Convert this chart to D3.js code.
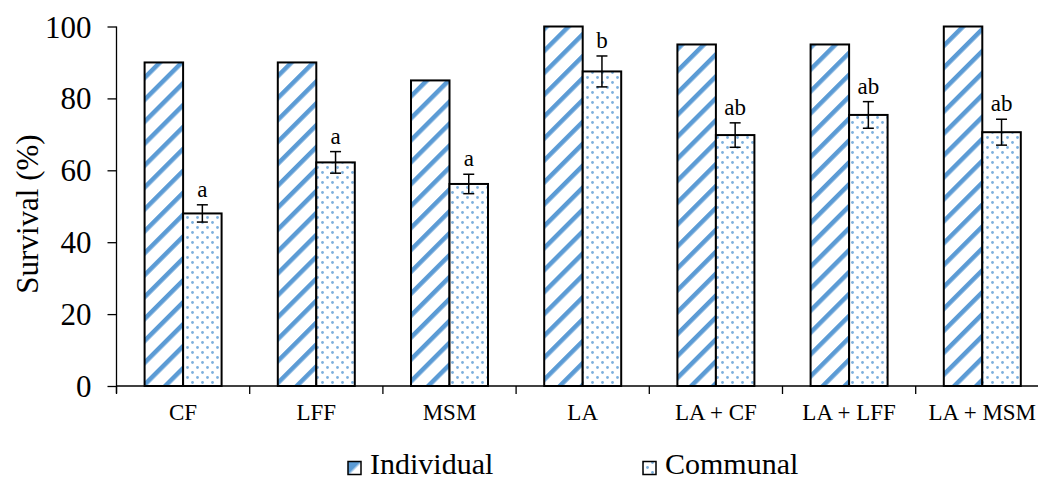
<!DOCTYPE html>
<html>
<head>
<meta charset="utf-8">
<script src="https://cdn.jsdelivr.net/npm/d3@7"></script>
<style>
  html, body { margin: 0; padding: 0; background: #fff; }
  svg { display: block; }
  svg text { font-family: "Liberation Serif", "Times New Roman", serif; }
</style>
</head>
<body>
<svg id="chart" width="1038" height="479"></svg>
<script>
// Survival by treatment, individual vs communal rearing
const categories = ["CF", "LFF", "MSM", "LA", "LA + CF", "LA + LFF", "LA + MSM"];
const individual = [90, 90, 85, 100, 95, 95, 100];
const communal = [48, 62.2, 56.2, 87.5, 69.8, 75.4, 70.6];
const communalErr = [2.4, 3.0, 2.7, 4.3, 3.4, 3.7, 3.6];
const groupLetters = ["a", "a", "a", "b", "ab", "ab", "ab"];
const yTicks = [0, 20, 40, 60, 80, 100];
const seriesNames = ["Individual", "Communal"];

const blue = "#5b9bd5";
const serif = "Liberation Serif";
const svg = d3.select("#chart");

// fill patterns
const defs = svg.append("defs");
const stripe = defs.append("pattern")
  .attr("id", "stripes")
  .attr("patternUnits", "userSpaceOnUse")
  .attr("width", 15.5).attr("height", 15.5)
  .attr("patternTransform", "rotate(45)");
stripe.append("rect").attr("width", 15.5).attr("height", 15.5).attr("fill", "#fff");
stripe.append("rect").attr("x", 0).attr("width", 4.5).attr("height", 15.5).attr("fill", blue);

const dots = defs.append("pattern")
  .attr("id", "dots")
  .attr("patternUnits", "userSpaceOnUse")
  .attr("width", 10).attr("height", 10);
dots.append("rect").attr("width", 10).attr("height", 10).attr("fill", "#fff");
dots.append("circle").attr("cx", 2.5).attr("cy", 2.5).attr("r", 1.4).attr("fill", blue).attr("fill-opacity", 0.8);
dots.append("circle").attr("cx", 7.5).attr("cy", 7.5).attr("r", 1.4).attr("fill", blue).attr("fill-opacity", 0.8);

const swatchGrad = defs.append("linearGradient")
  .attr("id", "indivSwatch")
  .attr("x1", 0).attr("y1", 0).attr("x2", 1).attr("y2", 1);
swatchGrad.append("stop").attr("offset", "0%").attr("stop-color", blue);
swatchGrad.append("stop").attr("offset", "45%").attr("stop-color", blue);
swatchGrad.append("stop").attr("offset", "60%").attr("stop-color", "#fff");
swatchGrad.append("stop").attr("offset", "100%").attr("stop-color", "#fff");

// scales
const x = d3.scaleBand().domain(categories).range([116.5, 116.5 + 7 * 133.2]).padding(0);
const y = d3.scaleLinear().domain([0, 100]).range([386, 26.5]);
const barW = 38.5;

// y axis
const yAxis = d3.axisLeft(y).tickValues(yTicks).tickSize(9).tickPadding(16);
const gy = svg.append("g").attr("transform", "translate(116.5,0)").call(yAxis);
gy.attr("font-family", serif);
gy.select(".domain").attr("d", "M0,26.5V393").attr("stroke", "#000").attr("stroke-width", 1.3);
gy.selectAll(".tick line").attr("stroke", "#000").attr("stroke-width", 1.3);
gy.selectAll(".tick text")
  .attr("font-family", serif).attr("font-size", 31).attr("fill", "#000")
  .attr("dy", "0.34em");

// x axis with ticks between categories
const boundaries = d3.range(categories.length + 1).map(i => x.range()[0] + i * x.step());
const gx = svg.append("g");
gx.append("line")
  .attr("x1", x.range()[0]).attr("x2", x.range()[1])
  .attr("y1", y(0)).attr("y2", y(0))
  .attr("stroke", "#000").attr("stroke-width", 1.3);
gx.selectAll("line.tk").data(boundaries).join("line")
  .attr("class", "tk")
  .attr("x1", d => d).attr("x2", d => d)
  .attr("y1", y(0)).attr("y2", y(0) + 8)
  .attr("stroke", "#000").attr("stroke-width", 1.3);
gx.selectAll("text").data(categories).join("text")
  .attr("x", d => x(d) + x.bandwidth() / 2)
  .attr("y", 420)
  .attr("text-anchor", "middle")
  .attr("font-family", serif)
  .attr("font-size", 23)
  .attr("fill", "#000")
  .text(d => d);

// bars
const bars = svg.append("g");
bars.selectAll("rect.ind").data(categories).join("rect")
  .attr("class", "ind")
  .attr("x", (d) => x(d) + x.bandwidth() / 2 - barW)
  .attr("y", (d, i) => y(individual[i]))
  .attr("width", barW)
  .attr("height", (d, i) => y(0) - y(individual[i]))
  .attr("fill", "url(#stripes)")
  .attr("stroke", "#000").attr("stroke-width", 2);
bars.selectAll("rect.com").data(categories).join("rect")
  .attr("class", "com")
  .attr("x", (d) => x(d) + x.bandwidth() / 2)
  .attr("y", (d, i) => y(communal[i]))
  .attr("width", barW)
  .attr("height", (d, i) => y(0) - y(communal[i]))
  .attr("fill", "url(#dots)")
  .attr("stroke", "#000").attr("stroke-width", 2);

// error bars on communal
const err = svg.append("g").attr("stroke", "#000").attr("stroke-width", 1.5);
categories.forEach((c, i) => {
  const cx = x(c) + x.bandwidth() / 2 + barW / 2;
  const top = y(communal[i] + communalErr[i]);
  const bot = y(communal[i] - communalErr[i]);
  err.append("line").attr("x1", cx).attr("x2", cx).attr("y1", top).attr("y2", bot);
  err.append("line").attr("x1", cx - 5.5).attr("x2", cx + 5.5).attr("y1", top).attr("y2", top);
  err.append("line").attr("x1", cx - 5.5).attr("x2", cx + 5.5).attr("y1", bot).attr("y2", bot);
});

// significance letters
svg.append("g").selectAll("text").data(categories).join("text")
  .attr("x", d => x(d) + x.bandwidth() / 2 + barW / 2)
  .attr("y", (d, i) => y(communal[i] + communalErr[i]) - 8)
  .attr("text-anchor", "middle")
  .attr("font-family", serif)
  .attr("font-size", 23)
  .attr("fill", "#000")
  .text((d, i) => groupLetters[i]);

// y axis title
svg.append("text")
  .attr("transform", "translate(38,214) rotate(-90)")
  .attr("text-anchor", "middle")
  .attr("font-family", serif)
  .attr("font-size", 31)
  .attr("fill", "#000")
  .text("Survival (%)");

// legend
const legendX = [348, 643];
const legendFill = ["url(#indivSwatch)", "url(#dots)"];
const lg = svg.append("g");
seriesNames.forEach((name, i) => {
  lg.append("rect")
    .attr("x", legendX[i]).attr("y", 461.5)
    .attr("width", 13).attr("height", 13)
    .attr("fill", legendFill[i])
    .attr("stroke", "#000").attr("stroke-width", 1.5);
  lg.append("text")
    .attr("x", legendX[i] + 22).attr("y", 474)
    .attr("font-family", serif)
    .attr("font-size", 30)
    .attr("fill", "#000")
    .text(name);
});
</script>
</body>
</html>
